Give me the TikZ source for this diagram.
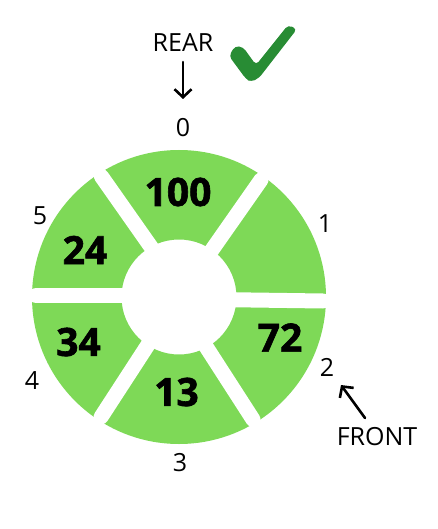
\documentclass[tikz,border=0pt]{standalone}
\usepackage{fontspec}
\setmainfont{Open Sans}
\newfontfamily\valfont[BoldFeatures={FakeBold=1.6}]{Open Sans}
\usetikzlibrary{arrows.meta}
\definecolor{ringgreen}{RGB}{126,217,87}
\definecolor{checkgreen}{RGB}{40,140,52}
\tikzset{
  lbl/.style={inner sep=0pt, font=\fontsize{25}{28}\selectfont},
  val/.style={inner sep=0pt, font=\fontsize{39}{42}\selectfont\valfont\bfseries},
  gap/.style={draw=white, line width=15pt, line cap=round},
  arr/.style={line width=2.6pt, line cap=round, line join=round, -{Straight Barb[length=8pt,width=17pt,line width=2.6pt]}}
}
\begin{document}
\begin{tikzpicture}[x=1pt,y=-1pt]
\useasboundingbox (0,0) rectangle (437,529);
\coordinate (C) at (179,297);
% ring
\fill[ringgreen, even odd rule] (C) circle (147pt) (C) circle (57.5pt);
% gaps between the cells
\coordinate (g50a) at (170,274);  \coordinate (g50b) at (101.5,176.5);
\coordinate (g32a) at (200.5,338); \coordinate (g32b) at (253,419.5);
\coordinate (g12a) at (179,299);  \coordinate (g12b) at (323,301);
\coordinate (g54a) at (179,295.5); \coordinate (g54b) at (36,295.5);
\draw[gap] (g50a) -- (g50b);
\draw[gap] (C) -- ++(55:143pt);
\draw[gap] (g12a) -- (g12b);
\draw[gap] (g54a) -- (g54b);
\draw[gap] (C) -- ++(237:143pt);
\draw[gap] (g32a) -- (g32b);
% values
\node[val] (v0) at (178,192) {100};
\node[val] (v5) at (85,250) {24};
\node[val] (v4) at (78.5,342) {34};
\node[val] (v3) at (176.5,392) {13};
\node[val] (v2) at (280,337.5) {72};
% indices
\node[lbl] (i0) at (183,128) {0};
\node[lbl] (i1) at (325,224) {1};
\node[lbl] (i2) at (327,367) {2};
\node[lbl] (i3) at (180,463) {3};
\node[lbl] (i4) at (32,381) {4};
\node[lbl] (i5) at (40,216) {5};
% pointers
\node[lbl] (rear) at (183,43) {REAR};
\node[lbl] (front) at (377,437) {FRONT};
\coordinate (rearTail) at (183,62);
\coordinate (rearTip) at (183,99);
\coordinate (frontTail) at (365,418);
\coordinate (frontTip) at (341,385);
\draw[arr] (rearTail) -- (rearTip);
\draw[arr] (frontTail) -- (frontTip);
% check mark
\fill[checkgreen, rounded corners=4pt]
  (229,56) -- (235,46) -- (243,47) -- (256,65) -- (288,25) -- (297,29)
  -- (259,78) -- (251,82) -- (246,79) -- cycle;
\end{tikzpicture}
\end{document}
